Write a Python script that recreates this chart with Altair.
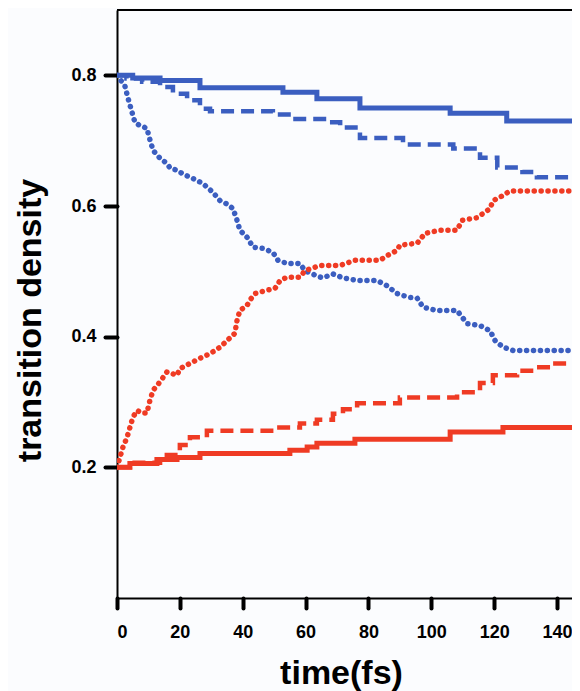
import altair as alt
import pandas as pd

# ---- data ----
blue_solid_t = [0, 5, 13.7, 26.4, 52.8, 63.6, 77.3, 106, 124, 147.3]
blue_solid_v = [0.800, 0.796, 0.792, 0.781, 0.774, 0.764, 0.750, 0.742, 0.730, 0.730]

blue_dashed_t = [0, 3, 8, 13.7, 17.8, 22.3, 26.4, 29.6, 49.6, 56, 66.8, 71, 77.3, 91, 107, 115.5, 121, 129, 133.6, 147.3]
blue_dashed_v = [0.800, 0.795, 0.790, 0.782, 0.772, 0.762, 0.749, 0.745, 0.740, 0.733, 0.728, 0.720, 0.704, 0.694, 0.688, 0.674, 0.659, 0.652, 0.644, 0.644]

blue_dotted_t = [0, 2.5, 3.5, 4.8, 5.7, 7.3, 9.5, 10.5, 11.5, 13.7, 15.9, 16.9, 19, 21, 25.5, 27.4, 30.5, 32.8, 35, 36.9,
                 38.2, 39.1, 41.4, 43.3, 46.5, 49.6, 51.2, 54.1, 58.2, 59.8, 63.6, 65.5, 68.7, 71.9, 76.4, 82.7, 85.9,
                 89.1, 91, 93.2, 95.5, 97.4, 101.8, 108.2, 109.8, 111.4, 115.5, 118.7, 120.3, 122.8, 126, 147.3]
blue_dotted_v = [0.800, 0.784, 0.765, 0.743, 0.728, 0.723, 0.719, 0.701, 0.685, 0.673, 0.665, 0.658, 0.655, 0.649, 0.639,
                 0.634, 0.621, 0.608, 0.603, 0.596, 0.578, 0.563, 0.552, 0.537, 0.535, 0.529, 0.517, 0.512, 0.512, 0.501,
                 0.493, 0.490, 0.496, 0.490, 0.486, 0.486, 0.478, 0.466, 0.463, 0.460, 0.459, 0.445, 0.440, 0.440, 0.430,
                 0.420, 0.417, 0.409, 0.394, 0.384, 0.379, 0.379]

red_solid_t = [0, 4.1, 12.7, 19.1, 26.4, 55, 60.5, 63.6, 75.7, 106, 122.8, 147.3]
red_solid_v = [0.200, 0.206, 0.212, 0.215, 0.221, 0.226, 0.231, 0.237, 0.243, 0.254, 0.261, 0.261]

red_dashed_t = [0, 4.1, 13.7, 20, 23.2, 28.6, 50.9, 58.2, 63.6, 68.7, 71.9, 76.4, 90, 108.2, 115.5, 119.6, 127.3, 133.6, 138.7, 147.3]
red_dashed_v = [0.200, 0.207, 0.219, 0.234, 0.246, 0.256, 0.261, 0.267, 0.273, 0.282, 0.289, 0.298, 0.307, 0.315, 0.329, 0.341, 0.348, 0.353, 0.359, 0.359]

red_dotted_t = [0, 1.9, 3.2, 4.1, 5.1, 6.4, 8, 9.5, 10.5, 11.5, 13.7, 15.9, 19.1, 20, 23.2, 26.4, 29.6, 32.8, 35.9, 37.5,
                38.2, 39.1, 41.4, 42.3, 43.9, 47.7, 50.3, 51.9, 54.1, 58.2, 59.8, 64.6, 71, 75.7, 83.7, 85.9, 89.1, 90,
                95.5, 98, 102.8, 108.2, 109.8, 114.5, 118.7, 119.6, 122.8, 125, 147.3]
red_dotted_v = [0.200, 0.231, 0.246, 0.261, 0.277, 0.287, 0.283, 0.283, 0.303, 0.318, 0.331, 0.346, 0.341, 0.351, 0.359,
                0.367, 0.374, 0.384, 0.398, 0.405, 0.425, 0.440, 0.448, 0.456, 0.466, 0.471, 0.474, 0.486, 0.491, 0.491,
                0.501, 0.509, 0.509, 0.517, 0.517, 0.524, 0.532, 0.540, 0.543, 0.558, 0.563, 0.563, 0.578, 0.582, 0.596,
                0.608, 0.616, 0.623, 0.623]

x_ticks = [0, 20, 40, 60, 80, 100, 120, 140]
y_ticks = [0.2, 0.4, 0.6, 0.8]

BLUE = "#3b5ec0"
RED = "#ef3b24"
W, H = 455, 588
X_MAX = 144.77   # visible part of the time axis (picture is cropped on the right)

x_enc = alt.X("t:Q", scale=alt.Scale(domain=[0, X_MAX], nice=False, zero=False),
              axis=alt.Axis(values=x_ticks, title="time(fs)", grid=False, tickSize=10, labelPadding=15,
                            titleX=224, titleY=85, titleAnchor="start", titleAlign="center",
                            titleBaseline="alphabetic"))
y_enc = alt.Y("v:Q", scale=alt.Scale(domain=[0, 0.9], nice=False, zero=False),
              axis=alt.Axis(values=y_ticks, title="transition density", grid=False, tickSize=12, labelPadding=9,
                            format=".1f", titleX=-77, titleY=310, titleAngle=270, titleAlign="center",
                            titleBaseline="alphabetic"))


def series(t, v, color, dash, width, interp):
    df = pd.DataFrame({"t": t, "v": v})
    kw = dict(color=color, strokeWidth=width, interpolate=interp, clip=True)
    if dash is not None:
        kw["strokeDash"] = dash
    if dash is not None and dash[0] < 1:
        kw["strokeCap"] = "round"
    return alt.Chart(df).mark_line(**kw).encode(x=x_enc, y=y_enc)


layers = [
    series(blue_dotted_t, blue_dotted_v, BLUE, [0.1, 6.8], 5.5, "linear"),
    series(red_dotted_t, red_dotted_v, RED, [0.1, 6.8], 5.5, "linear"),
    series(blue_dashed_t, blue_dashed_v, BLUE, [13, 7], 4.5, "step-after"),
    series(red_dashed_t, red_dashed_v, RED, [13, 7], 4.5, "step-after"),
    series(blue_solid_t, blue_solid_v, BLUE, None, 5, "step-after"),
    series(red_solid_t, red_solid_v, RED, None, 5, "step-after"),
]

top = alt.Chart(pd.DataFrame({"a": [0]})).mark_rule(color="black", strokeWidth=2).encode(
    y=alt.value(0), x=alt.value(0), x2=alt.value(W))

chart = alt.layer(*layers, top).properties(
    width=W, height=H,
    autosize=alt.AutoSizeParams(type="none"),
    padding={"left": 109, "top": 2, "right": 0, "bottom": 95},
    background="#fbfcfe",
).configure_view(stroke=None).configure_axis(
    labelFont="Liberation Sans", labelFontWeight="bold", labelFontSize=18, labelColor="black",
    titleFont="Liberation Sans", titleFontWeight="bold", titleFontSize=34, titleColor="black",
    domainColor="black", domainWidth=2, tickColor="black", tickWidth=4, tickCap="round",
)

chart.save("out.html", embed_options={"renderer": "svg", "actions": False})
